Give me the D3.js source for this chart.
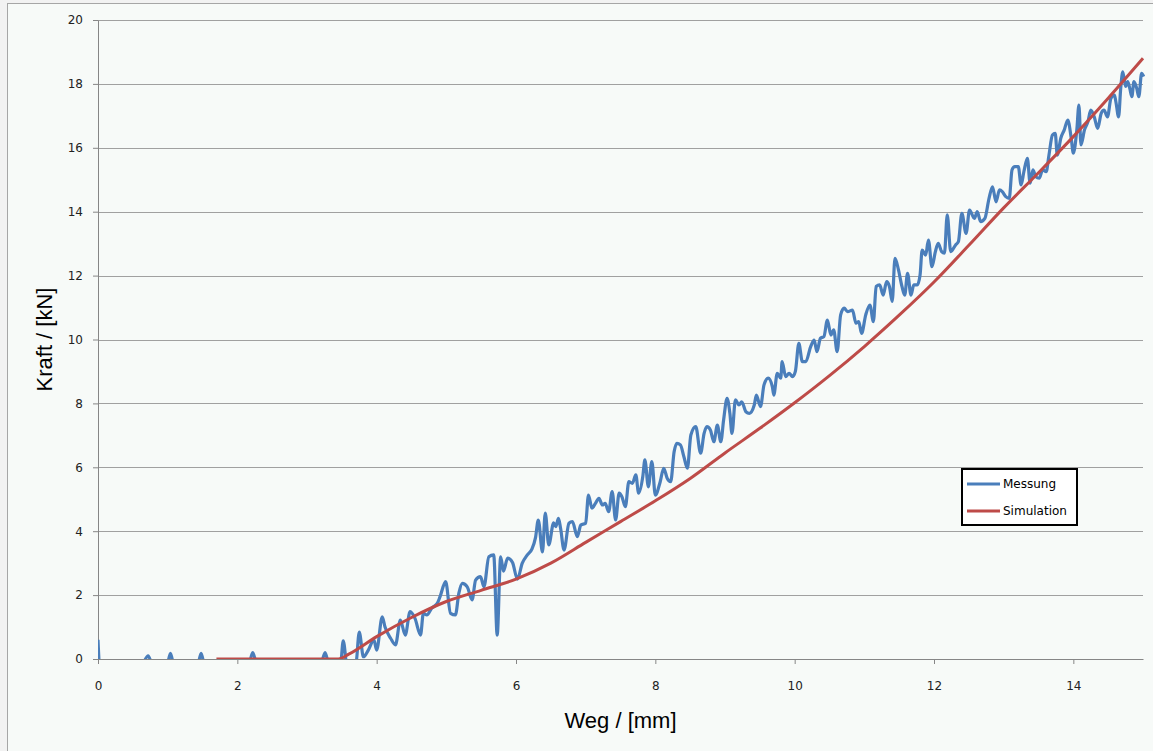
<!DOCTYPE html>
<html>

<head>
    <title>Kraft-Weg</title>
    <script src="https://d3js.org/d3.v7.min.js"></script>
    <style>
        body { margin: 0; background: #f2f2f2; }
    </style>
</head>

<body>

    <svg width="1153" height="751" id="mainSvg"></svg>
    <script>
        const messungWeg = [
            0, 0.03, 0.6, 0.72, 0.8, 0.98, 1.04, 1.1, 1.42, 1.48, 1.54, 2.15, 2.22, 2.3, 3.18, 3.26, 3.33, 3.48, 3.52, 3.58,
            3.7, 3.75, 3.81, 3.88, 3.96, 4.0, 4.08, 4.12, 4.2, 4.27, 4.34, 4.41, 4.48, 4.55, 4.63, 4.67, 4.72, 4.79, 4.87, 4.91,
            4.99, 5.06, 5.13, 5.18, 5.23, 5.3, 5.37, 5.42, 5.49, 5.54, 5.61, 5.68, 5.73, 5.78, 5.82, 5.88, 5.95, 6.02, 6.09, 6.16,
            6.23, 6.28, 6.32, 6.38, 6.42, 6.47, 6.54, 6.57, 6.61, 6.64, 6.69, 6.76, 6.81, 6.88, 6.93, 7.0, 7.04, 7.09, 7.14, 7.19,
            7.24, 7.28, 7.33, 7.38, 7.43, 7.48, 7.52, 7.57, 7.62, 7.67, 7.72, 7.76, 7.82, 7.85, 7.9, 7.95, 8.0, 8.07, 8.12, 8.17,
            8.22, 8.27, 8.31, 8.36, 8.41, 8.46, 8.51, 8.58, 8.65, 8.7, 8.74, 8.79, 8.84, 8.89, 8.94, 8.98, 9.03, 9.07, 9.1, 9.15,
            9.2, 9.24, 9.3, 9.35, 9.42, 9.45, 9.51, 9.56, 9.62, 9.68, 9.7, 9.75, 9.8, 9.82, 9.87, 9.92, 9.97, 10.01, 10.06, 10.11,
            10.16, 10.23, 10.28, 10.32, 10.37, 10.42, 10.47, 10.52, 10.56, 10.61, 10.66, 10.71, 10.76, 10.83, 10.88, 10.92, 10.96, 11.02, 11.08, 11.13,
            11.17, 11.22, 11.27, 11.32, 11.36, 11.4, 11.44, 11.49, 11.54, 11.58, 11.62, 11.67, 11.71, 11.76, 11.8, 11.83, 11.88, 11.92, 11.97, 12.02,
            12.06, 12.11, 12.15, 12.19, 12.24, 12.31, 12.35, 12.4, 12.46, 12.51, 12.58, 12.62, 12.67, 12.73, 12.79, 12.84, 12.89, 12.94, 12.98, 13.03,
            13.08, 13.12, 13.16, 13.21, 13.25, 13.29, 13.34, 13.38, 13.42, 13.46, 13.51, 13.56, 13.61, 13.65, 13.7, 13.74, 13.77, 13.82, 13.87, 13.92,
            13.97, 14.0, 14.05, 14.08, 14.11, 14.16, 14.21, 14.25, 14.3, 14.35, 14.4, 14.44, 14.49, 14.54, 14.59, 14.61, 14.65, 14.68, 14.71, 14.75,
            14.78, 14.81, 14.84, 14.87, 14.91, 14.94, 14.98, 15.01
        ];
        const messungKraft = [
            0.6, -0.4, -0.3, 0.1, -0.3, -0.3, 0.18, -0.3, -0.3, 0.18, -0.3, -0.3, 0.2, -0.3, -0.3, 0.2, -0.3, -0.2, 0.57, -0.3,
            -0.2, 0.84, 0.07, 0.28, 0.6, 0.28, 1.32, 1.0, 0.65, 0.44, 1.22, 0.75, 1.48, 1.27, 0.75, 1.43, 1.38, 1.59, 1.74, 1.95,
            2.42, 1.43, 1.38, 2.06, 2.37, 2.26, 1.85, 2.47, 2.58, 2.26, 3.2, 3.26, 0.75, 3.2, 2.75, 3.16, 3.02, 2.5, 3.0, 3.25,
            3.45, 3.8, 4.35, 3.35, 4.57, 3.57, 4.26, 4.14, 4.4, 4.09, 3.41, 4.25, 4.3, 3.83, 4.19, 4.25, 5.13, 4.72, 4.87, 5.03,
            4.82, 4.87, 4.61, 5.24, 4.35, 5.19, 5.08, 4.77, 5.55, 5.5, 5.76, 5.19, 5.71, 6.23, 5.39, 6.18, 5.13, 5.55, 5.97, 5.66,
            5.55, 6.49, 6.75, 6.7, 6.33, 5.97, 7.01, 7.27, 6.44, 7.06, 7.27, 7.17, 6.8, 7.32, 6.8, 7.48, 8.16, 7.69, 7.06, 8.11,
            7.95, 8.05, 7.74, 7.69, 7.95, 8.26, 7.9, 8.58, 8.79, 8.52, 8.26, 8.94, 8.79, 9.31, 8.84, 8.94, 8.84, 9.0, 9.88, 9.31,
            9.31, 9.78, 9.98, 9.62, 10.04, 10.09, 10.61, 10.14, 10.3, 9.62, 10.77, 10.98, 10.87, 10.92, 10.51, 10.56, 10.19, 10.77, 11.08, 10.56,
            11.66, 11.71, 11.39, 11.81, 11.66, 11.19, 12.54, 12.18, 11.66, 11.39, 12.07, 11.39, 11.71, 11.71, 12.02, 12.8, 12.64, 13.11, 12.28, 12.75,
            13.01, 12.75, 12.7, 13.9, 12.75, 12.96, 13.06, 13.95, 13.32, 14.05, 13.79, 14.0, 13.69, 13.79, 14.42, 14.78, 14.31, 14.68, 14.63, 14.47,
            14.42, 15.31, 15.41, 15.41, 14.84, 15.25, 15.67, 14.89, 15.31, 15.1, 15.05, 15.31, 15.25, 15.77, 16.4, 16.45, 15.77, 16.3, 16.56, 16.87,
            16.3, 15.83, 16.56, 17.34, 16.09, 16.56, 16.82, 17.18, 16.97, 16.61, 17.08, 17.18, 16.97, 17.55, 17.65, 17.45, 16.97, 17.86, 18.38, 17.92,
            18.07, 17.86, 17.6, 18.07, 17.86, 17.6, 18.33, 18.23
        ];

        // Simulation
        const simWeg = [1.7, 3.45, 3.6, 4.0, 4.5, 5.0, 5.5, 6.0, 6.5, 7.0, 7.5, 8.0, 8.5, 9.0, 9.5, 10.0, 10.5, 11.0, 11.5, 12.0, 12.5, 13.0, 13.5, 14.0, 14.5, 15.0];
        const simKraft = [0, 0, 0.15, 0.7, 1.3, 1.8, 2.15, 2.5, 3.0, 3.65, 4.3, 4.95, 5.65, 6.45, 7.22, 8.02, 8.87, 9.78, 10.76, 11.8, 12.95, 14.12, 15.22, 16.35, 17.55, 18.8];

        const xTicks = [0, 2, 4, 6, 8, 10, 12, 14];
        const yTicks = [0, 2, 4, 6, 8, 10, 12, 14, 16, 18, 20];

        const seriesNames = ["Messung", "Simulation"];
        const seriesColors = ["#4a7ebb", "#be4b48"];

        const mainSvg = d3.select("#mainSvg");
        const mainWidth = +mainSvg.attr("width");
        const mainHeight = +mainSvg.attr("height");

        // Diagrammfläche
        mainSvg.append("rect")
            .attr("x", 7.5).attr("y", 3.5)
            .attr("width", mainWidth).attr("height", mainHeight)
            .attr("fill", "#f7faf8")
            .attr("stroke", "#a6a6a6");

        const margin = { top: 20, right: 10, bottom: 92, left: 98 };
        const innerWidth = mainWidth - margin.left - margin.right;
        const innerHeight = mainHeight - margin.top - margin.bottom;

        const g = mainSvg.append("g")
            .attr("transform", `translate(${margin.left}, ${margin.top})`);

        const xScale = d3.scaleLinear().domain([0, 15]).range([0, innerWidth]);
        const yScale = d3.scaleLinear().domain([0, 20]).range([innerHeight, 0]);

        // Gitterlinien
        g.selectAll(".grid").data(yTicks.filter(d => d > 0)).enter().append("line")
            .attr("class", "grid")
            .attr("x1", 0).attr("x2", innerWidth)
            .attr("y1", d => Math.round(yScale(d)) + 0.5)
            .attr("y2", d => Math.round(yScale(d)) + 0.5)
            .attr("stroke", "#a0a0a0");

        const xAxis = d3.axisBottom(xScale).tickValues(xTicks).tickSize(5).tickSizeOuter(0).tickPadding(17);
        const yAxis = d3.axisLeft(yScale).tickValues(yTicks).tickSize(5).tickSizeOuter(0).tickPadding(10);

        const xAxisGroup = g.append("g").attr("transform", `translate(0, ${innerHeight})`).call(xAxis);
        const yAxisGroup = g.append("g").call(yAxis);

        g.selectAll(".domain").attr("stroke", "#868686");
        g.selectAll(".tick line").attr("stroke", "#868686");
        g.selectAll(".tick text")
            .attr("font-size", 12)
            .attr("font-family", "'DejaVu Sans', sans-serif")
            .attr("fill", "#222");

        // Achsentitel
        xAxisGroup.append("text")
            .attr("x", xScale(7.5)).attr("y", 69)
            .attr("text-anchor", "middle")
            .attr("font-size", 22)
            .attr("font-family", "'Liberation Sans', Arial, sans-serif")
            .attr("fill", "#000")
            .text("Weg / [mm]");

        yAxisGroup.append("text")
            .attr("transform", "rotate(-90)")
            .attr("x", -innerHeight / 2).attr("y", -46)
            .attr("text-anchor", "middle")
            .attr("font-size", 22)
            .attr("font-family", "'Liberation Sans', Arial, sans-serif")
            .attr("fill", "#000")
            .text("Kraft / [kN]");

        // Linien
        g.append("clipPath").attr("id", "plotClip")
            .append("rect").attr("x", 0).attr("y", -2).attr("width", innerWidth + 2).attr("height", innerHeight + 2);

        const line = d3.line()
            .x(d => xScale(d[0]))
            .y(d => yScale(d[1]))
            .curve(d3.curveMonotoneX);

        const messung = d3.zip(messungWeg, messungKraft);
        const simulation = d3.zip(simWeg, simKraft);

        g.append("path").datum(messung)
            .attr("clip-path", "url(#plotClip)")
            .attr("d", line)
            .attr("fill", "none")
            .attr("stroke", seriesColors[0])
            .attr("stroke-width", 3.2)
            .attr("stroke-linejoin", "round");

        g.append("path").datum(simulation)
            .attr("clip-path", "url(#plotClip)")
            .attr("d", line)
            .attr("fill", "none")
            .attr("stroke", seriesColors[1])
            .attr("stroke-width", 3)
            .attr("stroke-linejoin", "round");

        // Legende
        const legend = mainSvg.append("g").attr("transform", "translate(962, 469)");
        legend.append("rect")
            .attr("width", 115).attr("height", 56)
            .attr("fill", "#fff")
            .attr("stroke", "#000")
            .attr("stroke-width", 2);

        seriesNames.forEach((name, i) => {
            const yy = 15 + i * 27;
            legend.append("line")
                .attr("x1", 5).attr("x2", 38)
                .attr("y1", yy).attr("y2", yy)
                .attr("stroke", seriesColors[i])
                .attr("stroke-width", 3);
            legend.append("text")
                .attr("x", 41).attr("y", yy + 4)
                .attr("font-size", 12)
                .attr("font-family", "'DejaVu Sans', sans-serif")
                .attr("fill", "#000")
                .text(name);
        });
    </script>
</body>

</html>
